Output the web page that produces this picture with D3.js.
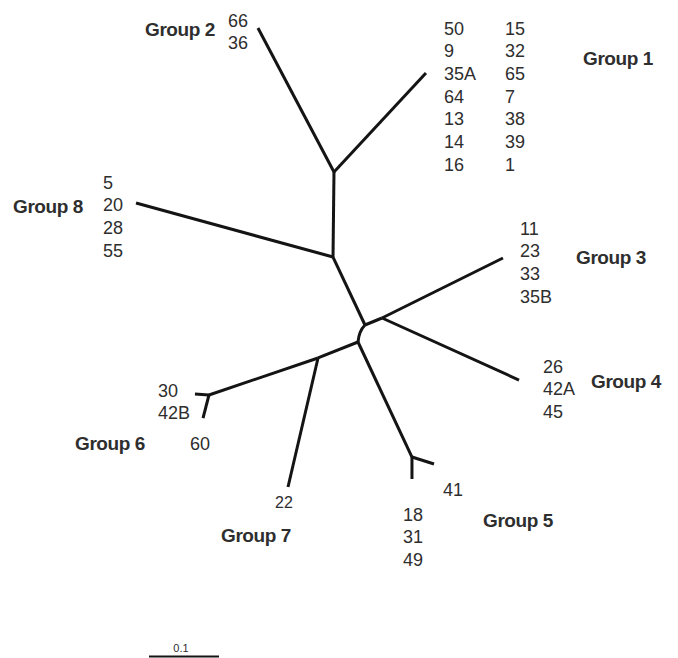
<!DOCTYPE html>
<html>
<head>
<meta charset="utf-8">
<script src="https://cdn.jsdelivr.net/npm/d3@7"></script>
<style>
  html, body { margin: 0; padding: 0; background: #fff; }
  svg { display: block; }
  text { font-family: "Liberation Sans", Arial, sans-serif; fill: #2e2e2e; }
</style>
</head>
<body>
<svg id="chart" width="678" height="658"></svg>
<script>
// ---- Data: unrooted tree, node coordinates in substitution-distance units ----
const nodeIds = ["C", "A", "B", "D", "E", "F", "N5", "N6",
                 "t1", "t2", "t3", "t4", "t5a", "t5b", "t6a", "t6b", "t7", "t8"];
const nodeX = [0, -0.0443, -0.0457, 0.0243, -0.0100, -0.0671, 0.0671, -0.2229,
               0.0871, -0.1529, 0.1971, 0.2200, 0.0986, 0.0671, -0.2429, -0.2314, -0.1100, -0.3271];
const nodeY = [0, -0.2186, -0.0971, -0.0100, 0.0243, 0.0471, 0.1886, 0.1000,
               -0.3600, -0.4243, -0.0957, 0.0786, 0.1986, 0.2200, 0.0986, 0.1329, 0.2314, -0.1743];
const edgeFrom = ["A", "A", "B", "B", "C", "C", "D", "D", "C", "E", "E", "F", "F", "N6", "N6", "N5", "N5"];
const edgeTo   = ["t2", "t1", "A", "t8", "B", "D", "t3", "t4", "E", "N5", "F", "N6", "t7", "t6a", "t6b", "t5a", "t5b"];

// Group membership labels
const groupNames = ["Group 1", "Group 2", "Group 3", "Group 4", "Group 5", "Group 6", "Group 7", "Group 8"];
const group1a = ["50", "9", "35A", "64", "13", "14", "16"];
const group1b = ["15", "32", "65", "7", "38", "39", "1"];
const group2 = ["66", "36"];
const group3 = ["11", "23", "33", "35B"];
const group4 = ["26", "42A", "45"];
const group5a = ["41"];
const group5b = ["18", "31", "49"];
const group6a = ["30", "42B"];
const group6b = ["60"];
const group7 = ["22"];
const group8 = ["5", "20", "28", "55"];
const scaleBarValue = 0.1;

// ---- Scales ----
const x = d3.scaleLinear().domain([0, 0.1]).range([365, 435]);
const y = d3.scaleLinear().domain([0, 0.1]).range([325, 395]);

const svg = d3.select("#chart");
const nodes = new Map(nodeIds.map((id, i) => [id, { x: nodeX[i], y: nodeY[i] }]));
const edges = edgeFrom.map((f, i) => ({ source: nodes.get(f), target: nodes.get(edgeTo[i]), curved: f === "C" && edgeTo[i] === "E" }));

svg.append("g")
  .attr("fill", "none")
  .attr("stroke", "#141414")
  .attr("stroke-width", 3)
  .attr("stroke-linejoin", "round")
  .selectAll("path")
  .data(edges)
  .join("path")
  .attr("d", d => {
    const p = d3.path();
    const x0 = x(d.source.x), y0 = y(d.source.y), x1 = x(d.target.x), y1 = y(d.target.y);
    p.moveTo(x0, y0);
    if (d.curved) p.quadraticCurveTo(x0 - 6, y0 + 6, x1, y1);
    else p.lineTo(x1, y1);
    return p.toString();
  });

// ---- Labels ----
const FS = 18, STEP = 22.7;
const base = cy => cy + 6.5; // text centre -> baseline
function column(items, x0, cy0, size) {
  svg.append("g").selectAll("text").data(items).join("text")
    .attr("x", x0)
    .attr("y", (d, i) => base(cy0 + i * STEP) - (size ? (FS - size) * 0.36 : 0))
    .attr("font-size", size || FS)
    .text(d => d);
}
function title(name, x0, cy) {
  svg.append("text").attr("x", x0).attr("y", base(cy) + 0.3)
    .attr("font-size", 19).attr("font-weight", "bold")
    .attr("letter-spacing", -0.4)
    .text(name);
}

column(group1a, 444, 28);
column(group1b, 505, 28);
title(groupNames[0], 583, 58);

column(group2, 228, 20);
title(groupNames[1], 145, 29);

column(group3, 520, 228);
title(groupNames[2], 576, 257);

column(group4, 543, 366);
title(groupNames[3], 591, 381);

column(group5a, 443, 489);
column(group5b, 403, 514);
title(groupNames[4], 483, 520);

column(group6a, 158, 390);
column(group6b, 190, 443);
title(groupNames[5], 75, 443);

column(group7, 275, 502, 16);
title(groupNames[6], 221, 535);

column(group8, 103, 182);
title(groupNames[7], 13, 206);

// ---- Scale bar ----
const sbX0 = 149;
svg.append("line")
  .attr("x1", sbX0).attr("x2", sbX0 + (x(scaleBarValue) - x(0)))
  .attr("y1", 656.5).attr("y2", 656.5)
  .attr("stroke", "#141414").attr("stroke-width", 2);
svg.append("text")
  .attr("x", sbX0 + (x(scaleBarValue) - x(0)) / 2 - 3)
  .attr("y", 652)
  .attr("text-anchor", "middle")
  .attr("font-size", 11)
  .text(String(scaleBarValue));
</script>
</body>
</html>
